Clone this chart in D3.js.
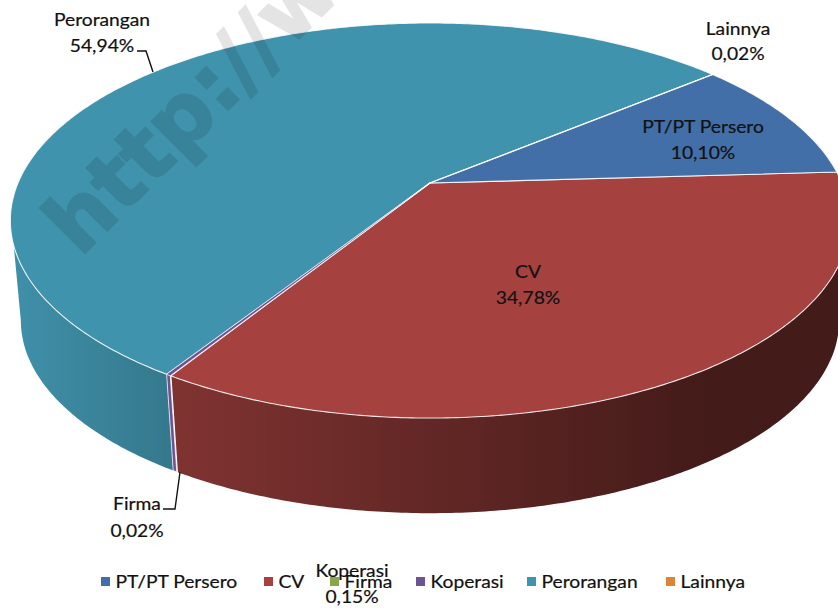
<!DOCTYPE html>
<html>
<head>
<meta charset="utf-8">
<style>
html, body { margin: 0; padding: 0; background: #fff; }
svg { display: block; }
text { font-family: Lato, "Open Sans", sans-serif; fill: #111; stroke: #111; stroke-width: 0.2px; }
</style>
</head>
<body>
<script src="https://cdn.jsdelivr.net/npm/d3@7"></script>
<script>
var categories = ["PT/PT Persero", "CV", "Firma", "Koperasi", "Perorangan", "Lainnya"];
var shares = [10.10, 34.78, 0.02, 0.15, 54.94, 0.02];
var shareLabels = ["10,10%", "34,78%", "0,02%", "0,15%", "54,94%", "0,02%"];
var topColors = ["#426fa7", "#a5423f", "#87a84a", "#6d5491", "#4093ad", "#dd8439"];
var sideColors = ["#2f5078", "url(#cvSide)", "#87a84a", "#6d5491", "url(#perSide)", "#dd8439"];
// thin slices last, so their outlines do not get covered
var drawOrder = [4, 1, 0, 2, 5, 3];

var width = 838, height = 610;

var svg = d3.select("body").append("svg")
    .attr("width", width)
    .attr("height", height);

var defs = svg.append("defs");

function gradient(id, x1, x2, stops) {
    var g = defs.append("linearGradient").attr("id", id)
        .attr("gradientUnits", "userSpaceOnUse")
        .attr("x1", x1).attr("x2", x2).attr("y1", 0).attr("y2", 0);
    stops.forEach(function(s) {
        g.append("stop").attr("offset", s[0]).attr("stop-color", s[1]);
    });
}
gradient("cvSide", 175, 838, [[0, "#7f3331"], [0.5, "#5a2422"], [0.8, "#431b19"], [1, "#431b19"]]);
gradient("perSide", 10, 178, [[0, "#3f90aa"], [0.55, "#3a8399"], [1, "#34778b"]]);

// perspective of the pie plane: apex at (cx, cy), near rim lower and wider
var cx = 430, cy = 183, rx = 412, ry = 190.4, k = 0.19;
var wallDrop = 101, wallScale = 0.975;

function rim(a) {
    var u = Math.sin(a), v = -Math.cos(a), w = 1 - k * v;
    return [rx * u / w, ry * v / w];
}
function topPt(a) {
    var p = rim(a);
    return [cx + p[0], cy + p[1]];
}
function bottomPt(a) {
    var p = rim(a);
    return [cx + p[0] * wallScale, cy + wallDrop + p[1] * wallScale];
}

var rad = Math.PI / 180;
var start = 50.3 * rad;
var pie = d3.pie().sort(null).startAngle(start).endAngle(start + 2 * Math.PI);
var arcs = pie(shares);
var line = d3.line();

function steps(a0, a1) {
    var n = Math.max(2, Math.ceil(Math.abs(a1 - a0) / 0.01));
    return d3.range(n + 1).map(function(i) { return a0 + (a1 - a0) * i / n; });
}

// walls: the top rim and the bottom rim stop at different angles so the
// outer edge runs straight from one ellipse to the other
var topFrom = 108 * rad, topTo = 252 * rad;
var bottomFrom = 101 * rad, bottomTo = 259 * rad;
var walls = svg.append("g");
drawOrder.forEach(function(i) {
    var d = arcs[i];
    var t0 = Math.max(d.startAngle, topFrom), t1 = Math.min(d.endAngle, topTo);
    var b0 = Math.max(d.startAngle, bottomFrom), b1 = Math.min(d.endAngle, bottomTo);
    if (b1 <= b0) return;
    var pts = (t1 > t0 ? steps(t0, t1).map(topPt) : [])
        .concat(steps(b0, b1).reverse().map(bottomPt));
    walls.append("path")
        .attr("d", line(pts) + "Z")
        .attr("fill", sideColors[i])
        .attr("stroke", shares[i] < 1 ? "#fff" : "none")
        .attr("stroke-width", shares[i] < 0.1 ? 1.4 : 0.7);
});

// top face
var faces = svg.append("g");
drawOrder.forEach(function(i) {
    var d = arcs[i];
    var pts = [[cx, cy]].concat(steps(d.startAngle, d.endAngle).map(topPt));
    faces.append("path")
        .attr("d", line(pts) + "Z")
        .attr("fill", topColors[i])
        .attr("stroke", "#fff")
        .attr("stroke-opacity", 0.85)
        .attr("stroke-width", shares[i] === 0.15 ? 0.6 : 1.1)
        .attr("stroke-linejoin", "round");
});

// leader lines
var leaders = [
    [[137, 51], [146, 51], [153, 72]],
    [[163, 509], [175, 509], [180, 472]]
];
svg.selectAll(".leader").data(leaders).join("path")
    .attr("class", "leader")
    .attr("d", function(d) { return line(d); })
    .attr("fill", "none")
    .attr("stroke", "#111")
    .attr("stroke-width", 1.4);

// the source image is a bit stretched sideways
var stretch = 1.1, fontSize = 17.5;
function label(x, y, str, anchor) {
    svg.append("text")
        .attr("transform", "translate(" + x + "," + y + ") scale(" + stretch + ",1)")
        .attr("text-anchor", anchor)
        .attr("font-size", fontSize)
        .text(str);
}

// data labels, in category order
var labelPos = [[703, 133, 159], [528, 278, 304], [137, 510, 537], [352, 577, 603], [102, 26, 52], [738, 35, 60]];
labelPos.forEach(function(p, i) {
    label(p[0], p[1], categories[i], "middle");
    label(p[0], p[2], shareLabels[i], "middle");
});

// legend
var legendX = [101, 264, 330, 416, 527, 666];
var legend = svg.append("g");
categories.forEach(function(c, i) {
    legend.append("rect").attr("x", legendX[i]).attr("y", 577)
        .attr("width", 9).attr("height", 9).attr("fill", topColors[i]);
    label(legendX[i] + 14.5, 588, c, "start");
});

// watermark across the top left
svg.append("g").attr("opacity", 0.1).append("text")
    .attr("transform", "translate(80,258) rotate(-45)")
    .attr("font-size", 84)
    .attr("font-weight", "bold")
    .style("font-family", "'DejaVu Sans'")
    .style("fill", "#000")
    .style("stroke", "#000")
    .style("stroke-width", "2px")
    .text("http://www");
</script>
</body>
</html>
